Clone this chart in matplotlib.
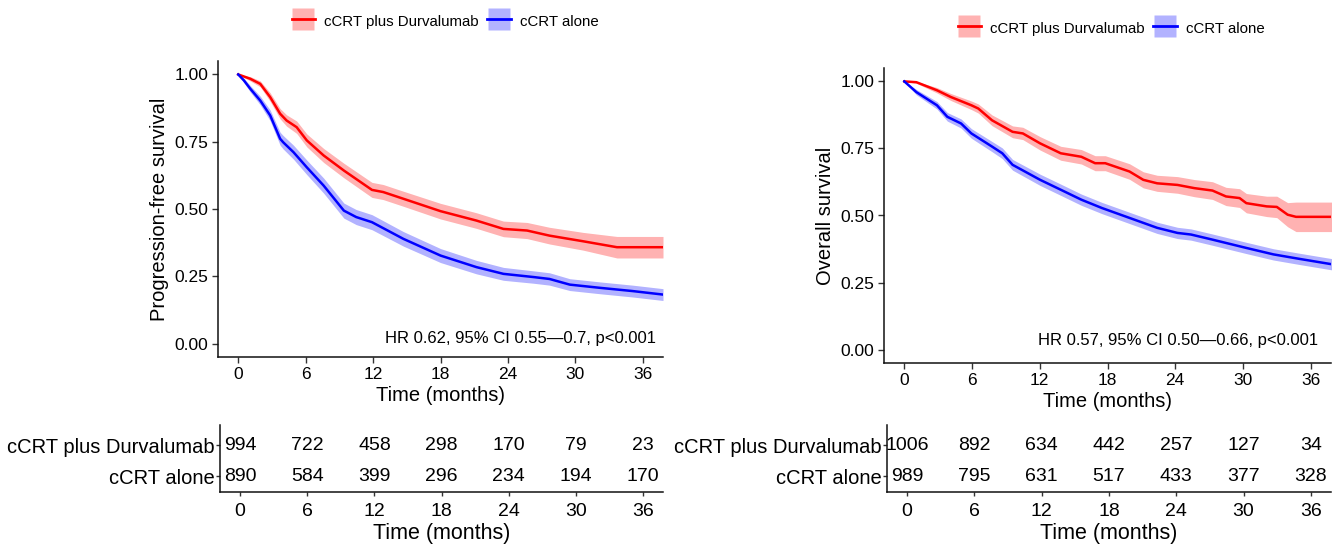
import matplotlib
matplotlib.use('Agg')
import matplotlib.pyplot as plt
from matplotlib.lines import Line2D

plt.rcParams['font.family'] = ['Liberation Sans', 'DejaVu Sans']

# ---- data ----
groups = ['cCRT plus Durvalumab', 'cCRT alone']
risk_times = [0, 6, 12, 18, 24, 30, 36]

# Progression-free survival, cCRT plus Durvalumab
pfs_durva_t = [0, 1.07, 1.96, 2.84, 3.73, 4.3, 5.2, 6.1, 7.6, 9.4, 11.9, 12.9, 14.7, 18.0, 21.2, 23.6, 25.7, 27.7, 30.7, 33.7, 37.8]
pfs_durva_s = [1.0, 0.984, 0.965, 0.916, 0.854, 0.829, 0.804, 0.755, 0.699, 0.643, 0.571, 0.563, 0.538, 0.492, 0.457, 0.426, 0.420, 0.401, 0.380, 0.358, 0.358]
pfs_durva_lo = [1.0, 0.976, 0.954, 0.900, 0.835, 0.808, 0.781, 0.731, 0.673, 0.616, 0.543, 0.535, 0.510, 0.463, 0.428, 0.397, 0.390, 0.370, 0.347, 0.318, 0.318]
pfs_durva_hi = [1.0, 0.992, 0.976, 0.932, 0.873, 0.850, 0.827, 0.779, 0.725, 0.670, 0.599, 0.591, 0.566, 0.521, 0.486, 0.455, 0.450, 0.432, 0.413, 0.398, 0.398]

# Progression-free survival, cCRT alone
pfs_alone_t = [0, 0.5, 1.07, 1.96, 2.84, 3.73, 4.0, 4.92, 6.1, 7.6, 9.4, 10.5, 11.9, 14.7, 18.0, 21.2, 23.6, 26.3, 27.7, 29.5, 32.2, 35.1, 37.8]
pfs_alone_s = [1.0, 0.978, 0.947, 0.903, 0.848, 0.761, 0.748, 0.711, 0.655, 0.587, 0.494, 0.470, 0.451, 0.389, 0.327, 0.284, 0.259, 0.247, 0.240, 0.219, 0.207, 0.195, 0.182]
pfs_alone_lo = [1.0, 0.970, 0.935, 0.887, 0.828, 0.737, 0.723, 0.685, 0.628, 0.559, 0.466, 0.442, 0.423, 0.362, 0.301, 0.259, 0.235, 0.224, 0.217, 0.197, 0.185, 0.173, 0.160]
pfs_alone_hi = [1.0, 0.986, 0.959, 0.919, 0.868, 0.785, 0.773, 0.737, 0.682, 0.615, 0.522, 0.498, 0.479, 0.416, 0.353, 0.309, 0.283, 0.270, 0.263, 0.241, 0.229, 0.217, 0.204]

# Overall survival, cCRT plus Durvalumab
os_durva_t = [0, 1.07, 2.89, 4.11, 5.94, 6.55, 7.77, 9.59, 10.5, 12.03, 13.86, 15.68, 16.9, 17.8, 19.95, 21.17, 22.4, 24.2, 25.7, 27.3, 28.5, 29.7, 30.3, 32.1, 33.0, 33.96, 34.7, 37.9]
os_durva_s = [1.0, 0.997, 0.967, 0.942, 0.911, 0.899, 0.855, 0.812, 0.806, 0.769, 0.732, 0.719, 0.695, 0.695, 0.664, 0.633, 0.620, 0.614, 0.602, 0.593, 0.571, 0.565, 0.546, 0.534, 0.532, 0.503, 0.495, 0.495]
os_durva_lo = [1.0, 0.993, 0.957, 0.929, 0.895, 0.882, 0.835, 0.790, 0.783, 0.744, 0.706, 0.692, 0.667, 0.667, 0.635, 0.603, 0.590, 0.583, 0.570, 0.560, 0.537, 0.530, 0.510, 0.496, 0.492, 0.458, 0.440, 0.440]
os_durva_hi = [1.0, 1.0, 0.977, 0.955, 0.927, 0.916, 0.875, 0.834, 0.829, 0.794, 0.758, 0.746, 0.723, 0.723, 0.693, 0.663, 0.650, 0.645, 0.634, 0.626, 0.605, 0.600, 0.582, 0.572, 0.572, 0.548, 0.550, 0.550]

# Overall survival, cCRT alone
os_alone_t = [0, 1.07, 2.89, 3.81, 5.03, 5.94, 7.77, 8.68, 9.59, 12.03, 13.86, 15.68, 17.5, 19.95, 22.4, 24.2, 25.4, 27.3, 30.3, 32.7, 34.9, 37.9]
os_alone_s = [1.0, 0.960, 0.911, 0.868, 0.843, 0.806, 0.757, 0.732, 0.689, 0.633, 0.596, 0.559, 0.528, 0.491, 0.454, 0.435, 0.429, 0.410, 0.379, 0.355, 0.339, 0.318]
os_alone_lo = [1.0, 0.950, 0.897, 0.852, 0.826, 0.788, 0.738, 0.712, 0.669, 0.612, 0.575, 0.538, 0.507, 0.470, 0.433, 0.414, 0.408, 0.389, 0.358, 0.334, 0.318, 0.297]
os_alone_hi = [1.0, 0.970, 0.925, 0.884, 0.860, 0.824, 0.776, 0.752, 0.709, 0.654, 0.617, 0.580, 0.549, 0.512, 0.475, 0.456, 0.450, 0.431, 0.400, 0.376, 0.360, 0.339]

# numbers at risk
pfs_risk_durva = [994, 722, 458, 298, 170, 79, 23]
pfs_risk_alone = [890, 584, 399, 296, 234, 194, 170]
os_risk_durva = [1006, 892, 634, 442, 257, 127, 34]
os_risk_alone = [989, 795, 631, 517, 433, 377, 328]

pfs_hr_text = 'HR 0.62, 95% CI 0.55\u20140.7, p<0.001'
os_hr_text = 'HR 0.57, 95% CI 0.50\u20140.66, p<0.001'

RED = '#FF0000'
BLUE = '#0000FF'
W, H = 1338, 547


def frac(x0, y0, x1, y1):
    # pixel box (top-left origin) -> figure fraction rect
    return [x0 / W, 1 - y1 / H, (x1 - x0) / W, (y1 - y0) / H]


def style_axes(ax):
    for side in ['top', 'right']:
        ax.spines[side].set_visible(False)
    for side in ['left', 'bottom']:
        ax.spines[side].set_linewidth(1.1)
        ax.spines[side].set_color('#111111')
    ax.tick_params(direction='out', length=4, width=1.0, color='#333333')


def km_panel(ax, curves, ylabel, hr_text, hr_x, hr_y):
    for t, s, lo, hi, col in curves:
        ax.fill_between(t, lo, hi, color=col, alpha=0.3, linewidth=0)
        ax.plot(t, s, color=col, lw=1.8)
    ax.set_xlim(-1.8, 37.8)
    ax.set_ylim(-0.05, 1.05)
    ax.set_xticks(risk_times)
    ax.set_yticks([0, 0.25, 0.5, 0.75, 1.0])
    ax.set_yticklabels(['0.00', '0.25', '0.50', '0.75', '1.00'])
    ax.tick_params(labelsize=12.5, pad=3)
    ax.set_xlabel('Time (months)', fontsize=14.5, labelpad=3)
    ax.set_ylabel(ylabel, fontsize=14.5, labelpad=4)
    ax.text(hr_x, hr_y, hr_text, ha='right', va='center', fontsize=12)
    style_axes(ax)


def risk_table(ax, durva, alone):
    for x, v in zip(risk_times, durva):
        ax.text(x, 2, str(v), ha='center', va='center', fontsize=14)
    for x, v in zip(risk_times, alone):
        ax.text(x, 1, str(v), ha='center', va='center', fontsize=14)
    ax.set_xlim(-1.8, 37.8)
    ax.set_ylim(0.5, 2.65)
    ax.set_xticks(risk_times)
    ax.set_yticks([2, 1])
    ax.set_yticklabels(groups)
    style_axes(ax)
    ax.tick_params(axis='y', labelsize=14.5, length=3, pad=1)
    ax.tick_params(axis='x', labelsize=14, length=3, pad=5)
    ax.set_xlabel('Time (months)', fontsize=15.5, labelpad=2)


fig = plt.figure(figsize=(W / 100, H / 100), dpi=100)

ax1 = fig.add_axes(frac(218, 61, 663, 357))
km_panel(ax1,
         [(pfs_durva_t, pfs_durva_s, pfs_durva_lo, pfs_durva_hi, RED),
          (pfs_alone_t, pfs_alone_s, pfs_alone_lo, pfs_alone_hi, BLUE)],
         'Progression-free survival', pfs_hr_text, 37.2, 0.02)

ax2 = fig.add_axes(frac(884, 68, 1331, 363))
km_panel(ax2,
         [(os_durva_t, os_durva_s, os_durva_lo, os_durva_hi, RED),
          (os_alone_t, os_alone_s, os_alone_lo, os_alone_hi, BLUE)],
         'Overall survival', os_hr_text, 36.7, 0.033)

t1 = fig.add_axes(frac(220, 425, 663, 492))
risk_table(t1, pfs_risk_durva, pfs_risk_alone)
t2 = fig.add_axes(frac(887, 425, 1331, 492))
risk_table(t2, os_risk_durva, os_risk_alone)


def key(col):
    # translucent square (ribbon) with the curve colour line across it
    box = Line2D([], [], linestyle='none', marker='s', markersize=16.5,
                 markerfacecolor=col, markeredgecolor='none', alpha=0.3)
    line = Line2D([], [], color=col, lw=2)
    return (box, line)


handles = [key(RED), key(BLUE)]
leg_kw = dict(loc='center', ncol=2, frameon=False, fontsize=10.8,
              handlelength=1.55, handleheight=1.6, handletextpad=0.6,
              columnspacing=0.6, borderpad=0)
fig.legend(handles, groups, bbox_to_anchor=(445 / W, 1 - 21 / H), **leg_kw)
fig.legend(handles, groups, bbox_to_anchor=(1111 / W, 1 - 28 / H), **leg_kw)

fig.savefig('out.png', dpi=100)
